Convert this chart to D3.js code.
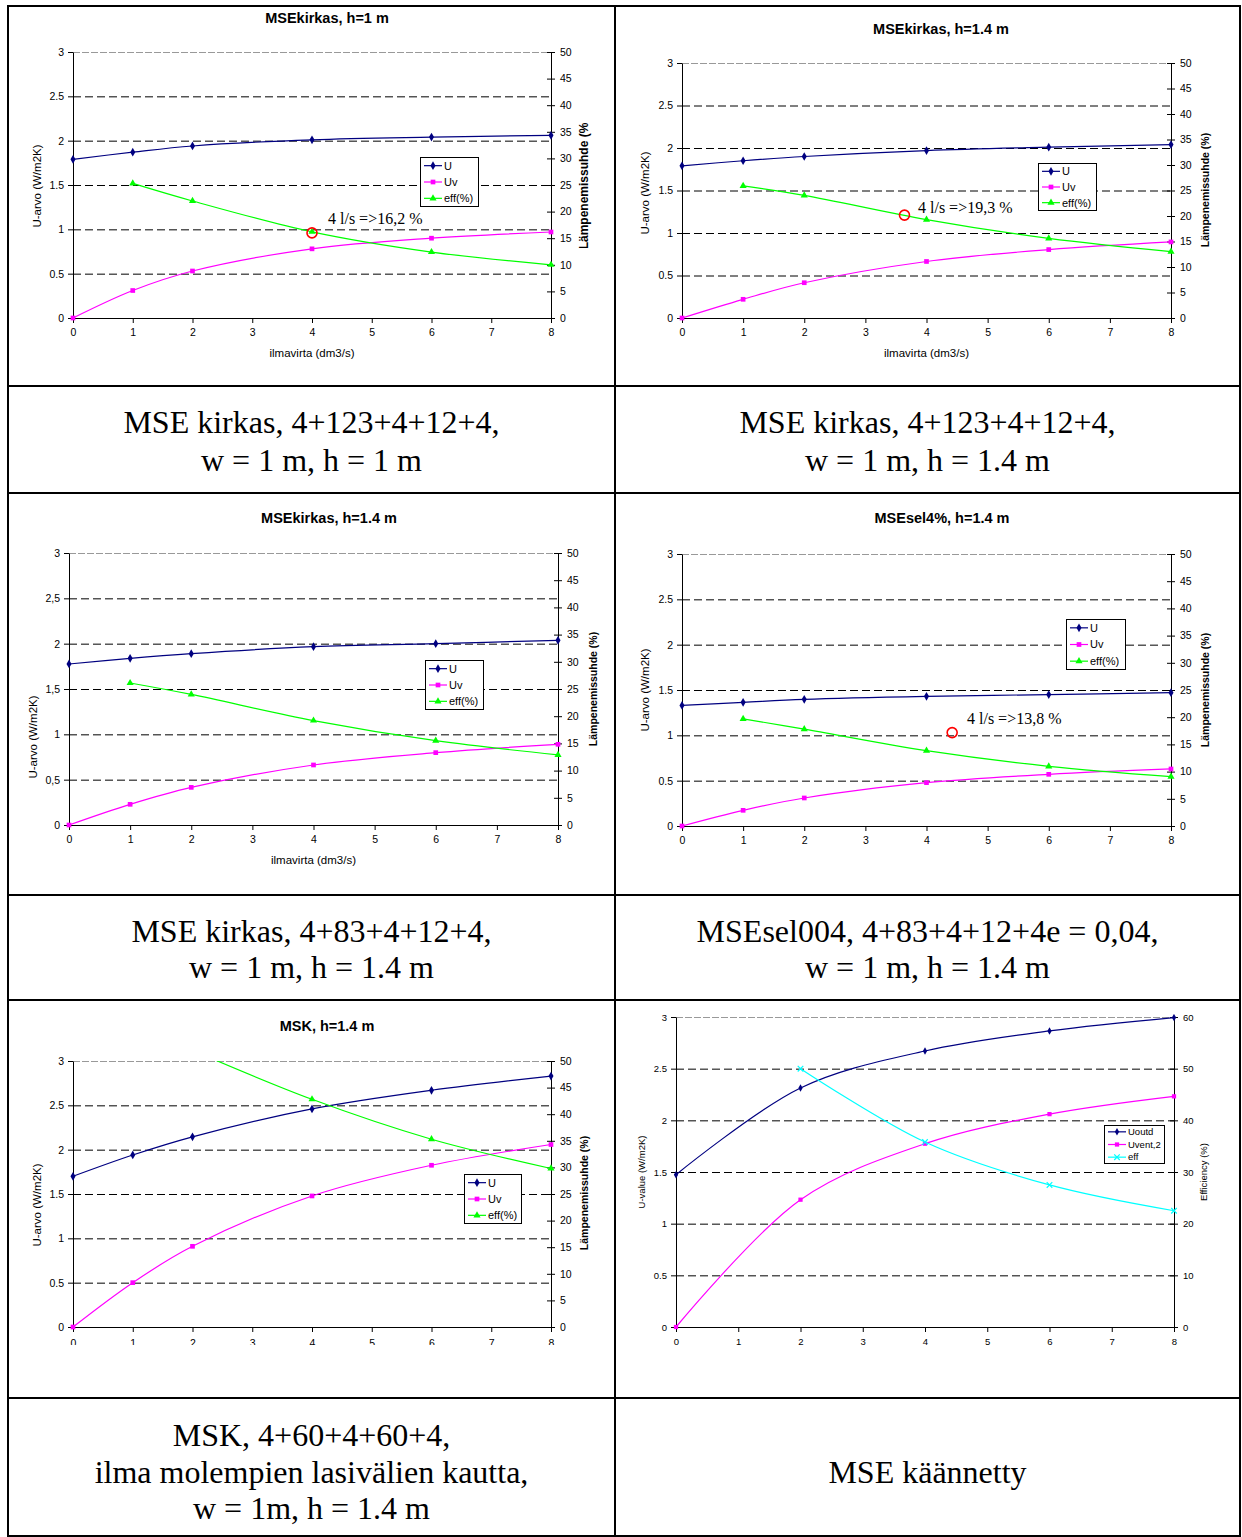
<!DOCTYPE html>
<html><head><meta charset="utf-8">
<script src="https://cdn.jsdelivr.net/npm/d3@7"></script>
<style>
body{margin:0;background:#fff}
</style>
</head><body>
<svg id="c" width="1242" height="1537" style="font-family:'Liberation Sans',Arial,sans-serif"></svg>
<script>
// ---------- data ----------
const xFlow = [0,1,2,4,6,8];
const xFlowEff = [1,2,4,6,8];
const xFlow6 = [0,2,4,6,8];
const xFlow6Eff = [2,4,6,8];

const c1U   = [1.79,1.87,1.94,2.01,2.04,2.06];
const c1Uv  = [0,0.31,0.53,0.78,0.90,0.97];
const c1Eff = [25.3,22.0,16.2,12.4,10.0];

const c2U   = [1.79,1.85,1.90,1.97,2.01,2.04];
const c2Uv  = [0,0.22,0.415,0.665,0.805,0.895];
const c2Eff = [25.9,24.05,19.3,15.6,13.0];

const c3U   = [1.776,1.838,1.89,1.967,2.00,2.037];
const c3Uv  = [0,0.228,0.415,0.662,0.798,0.89];
const c3Eff = [26.1,24.0,19.2,15.5,12.9];

const c4U   = [1.33,1.364,1.397,1.43,1.449,1.47];
const c4Uv  = [0,0.173,0.309,0.478,0.57,0.629];
const c4Eff = [19.7,17.8,13.85,10.97,9.07];

const c5U   = [1.70,1.94,2.145,2.46,2.67,2.83];
const c5Uv  = [0,0.50,0.91,1.478,1.824,2.058];
const c5Eff = [57,52,42.8,35.3,29.8];

const c6Uoutd = [1.474,2.313,2.671,2.865,2.994];
const c6Uvent = [0,1.232,1.774,2.06,2.232];
const c6Eff   = [50.0,35.8,27.5,22.5];

const uTicks = [0,0.5,1,1.5,2,2.5,3];
const uTickLabelsDot = ["0","0.5","1","1.5","2","2.5","3"];
const uTickLabelsComma = ["0","0,5","1","1,5","2","2,5","3"];
const effTicks50 = [0,5,10,15,20,25,30,35,40,45,50];
const effTicks60 = [0,10,20,30,40,50,60];
const xTicks = [0,1,2,3,4,5,6,7,8];

const chartTitles = ["MSEkirkas, h=1 m","MSEkirkas, h=1.4 m","MSEkirkas, h=1.4 m","MSEsel4%, h=1.4 m","MSK, h=1.4 m"];
const legendNames = ["U","Uv","eff(%)"];
const legendNames6 = ["Uoutd","Uvent,2","eff"];
const annotations = ["4 l/s =>16,2 %","4 l/s =>19,3 %","4 l/s =>13,8 %"];
const annotPoints = [[4,0.96],[3.64,1.21],[4.42,1.03]];
const captions = [
  ["MSE kirkas, 4+123+4+12+4,","w = 1 m, h = 1 m"],
  ["MSE kirkas, 4+123+4+12+4,","w = 1 m, h = 1.4 m"],
  ["MSE kirkas, 4+83+4+12+4,","w = 1 m, h = 1.4 m"],
  ["MSEsel004, 4+83+4+12+4e = 0,04,","w = 1 m, h = 1.4 m"],
  ["MSK, 4+60+4+60+4,","ilma molempien lasivälien kautta,","w = 1m, h = 1.4 m"],
  ["MSE käännetty"]
];
const yTitle = "U-arvo (W/m2K)", yTitle6 = "U-value (W/m2K)";
const rTitle = "Lämpenemissuhde (%)", rTitle6 = "Efficiency (%)";
const xTitle = "ilmavirta (dm3/s)";

// ---------- drawing ----------
const SANS = "'Liberation Sans',Arial,sans-serif";
const SERIF = "'Liberation Serif','Times New Roman',serif";
const svg = d3.select("#c");
svg.append("rect").attr("width",1242).attr("height",1537).attr("fill","#fff");
const defs = svg.append("defs");
const COL = {U:"#000080", Uv:"#FF00FF", eff:"#00FF00", eff6:"#00FFFF"};
let clipId = 0;
function clip(x,y,w,h){
  const id = "cp"+(clipId++);
  defs.append("clipPath").attr("id",id).append("rect").attr("x",x).attr("y",y).attr("width",w).attr("height",h);
  return "url(#"+id+")";
}
const symTimes = d3.symbolTimes || d3.symbolCross;

function drawChart(cfg){
  const root = svg.append("g");
  if (cfg.chartClip) root.attr("clip-path", clip(...cfg.chartClip));
  const x = d3.scaleLinear().domain([0,8]).range([cfg.x0,cfg.x1]);
  const yL = d3.scaleLinear().domain([0,3]).range([cfg.y1,cfg.y0]);
  const yR = d3.scaleLinear().domain([0,cfg.rMax]).range([cfg.y1,cfg.y0]);
  const fs = cfg.fs;

  root.append("g").selectAll("line").data(uTicks.filter(v=>v>0)).join("line")
    .attr("x1",cfg.x0).attr("x2",cfg.x1)
    .attr("y1",d=>yL(d)+0.5).attr("y2",d=>yL(d)+0.5)
    .attr("stroke",d=>d===3?"#999":"#000")
    .attr("stroke-dasharray",d=>d===3?"7,2":"8,4")
    .attr("stroke-width",1);

  function style(ax, size){
    ax.attr("font-family",null);
    ax.selectAll("text").style("font-family",SANS).attr("font-size",size).attr("fill","#000");
    ax.selectAll("line,path").attr("stroke","#000").attr("stroke-width",1);
  }
  const aL = root.append("g").attr("transform",`translate(${cfg.x0},0)`)
    .call(d3.axisLeft(yL).tickValues(uTicks).tickFormat((d,i)=>cfg.leftLabels[i]).tickSize(5).tickSizeOuter(0).tickPadding(4));
  style(aL, fs.tick);
  const aR = root.append("g").attr("transform",`translate(${cfg.x1},0)`)
    .call(d3.axisRight(yR).tickValues(cfg.rTicks).tickFormat(d3.format("d")).tickSize(4).tickSizeOuter(0).tickPadding(cfg.rPad));
  aR.selectAll(".tick line").attr("x1",-4).attr("x2",4);
  style(aR, fs.tick);
  const aB = root.append("g").attr("transform",`translate(0,${cfg.y1})`)
    .call(d3.axisBottom(x).tickValues(xTicks).tickFormat(d3.format("d")).tickSize(5).tickSizeOuter(0).tickPadding(cfg.bPad));
  style(aB, fs.tick);

  if (cfg.title) root.append("text").attr("x",cfg.titleX).attr("y",cfg.titleY).attr("dy","0.35em")
    .attr("text-anchor","middle").attr("font-weight","bold").attr("font-size",fs.title).text(cfg.title);
  if (cfg.xTitleY) root.append("text").attr("x",(cfg.x0+cfg.x1)/2).attr("y",cfg.xTitleY).attr("dy","0.35em")
    .attr("text-anchor","middle").attr("font-size",fs.axis).text(xTitle);
  root.append("text").attr("transform",`translate(${cfg.lTitleX},${cfg.lTitleY}) rotate(-90)`).attr("dy","0.35em")
    .attr("text-anchor","middle").attr("font-size",fs.axis).text(cfg.yTitleText);
  const rg = root.append("g");
  if (cfg.rClip) rg.attr("clip-path", clip(cfg.rTitleX-10,cfg.rClip[0],20,cfg.rClip[1]-cfg.rClip[0]));
  rg.append("text").attr("transform",`translate(${cfg.rTitleX},${cfg.rTitleY}) rotate(-90)`).attr("dy","0.35em")
    .attr("text-anchor","middle").attr("font-size",fs.rAxis).attr("font-weight",cfg.rBold?"bold":"normal").text(cfg.rTitleText);

  const plot = root.append("g").attr("clip-path", clip(cfg.x0-8,cfg.y0-3,cfg.x1-cfg.x0+16,cfg.y1-cfg.y0+11));
  const effPlot = root.append("g").attr("clip-path", clip(cfg.x0-8,cfg.y0,cfg.x1-cfg.x0+16,cfg.y1-cfg.y0+8));
  cfg.series.forEach(s=>{
    const yS = s.right ? yR : yL;
    const pts = s.xs.map((xv,i)=>[x(xv), yS(s.vals[i])]);
    const tgt = s.right ? effPlot : plot;
    tgt.append("path").attr("d", d3.line().curve(d3.curveCatmullRom.alpha(0.5))(pts))
      .attr("fill","none").attr("stroke",s.color).attr("stroke-width",1.2);
    tgt.selectAll(null).data(pts).join("path")
      .attr("transform",d=>`translate(${d[0]},${d[1]})`)
      .attr("d", d3.symbol().type(s.sym).size(s.size))
      .attr("fill", s.stroke ? "none" : s.color)
      .attr("stroke", s.stroke ? s.color : "none").attr("stroke-width",1.2);
  });

  const [lx,ly,lw,lh] = cfg.legend;
  const lg = root.append("g");
  lg.append("rect").attr("x",lx+0.5).attr("y",ly+0.5).attr("width",lw).attr("height",lh)
    .attr("fill","#fff").attr("stroke","#000").attr("stroke-width",1);
  const rowH = lh/3;
  cfg.series.forEach((s,i)=>{
    const cy = ly + rowH*(i+0.5) + 0.5;
    lg.append("line").attr("x1",lx+4).attr("x2",lx+22).attr("y1",cy).attr("y2",cy).attr("stroke",s.color).attr("stroke-width",1.2);
    lg.append("path").attr("transform",`translate(${lx+13},${cy})`).attr("d",d3.symbol().type(s.sym).size(s.size))
      .attr("fill", s.stroke ? "none" : s.color).attr("stroke", s.stroke ? s.color : "none").attr("stroke-width",1.2);
    lg.append("text").attr("x",lx+24).attr("y",cy).attr("dy","0.35em").attr("font-size",fs.legend).text(cfg.names[i]);
  });

  if (cfg.annot){
    const [ax,ay] = annotPoints[cfg.annot.i];
    root.append("circle").attr("cx",x(ax)).attr("cy",yL(ay)).attr("r",5)
      .attr("fill","none").attr("stroke","#FF0000").attr("stroke-width",1.6);
    root.append("text").attr("x",cfg.annot.tx).attr("y",cfg.annot.ty).attr("dy","0.35em")
      .style("font-family",SERIF).attr("font-size",16)
      .text(annotations[cfg.annot.i]);
  }
}

function std(U,Uv,Eff){
  return [
    {xs:xFlow, vals:U, color:COL.U, sym:d3.symbolDiamond, size:22},
    {xs:xFlow, vals:Uv, color:COL.Uv, sym:d3.symbolSquare, size:22},
    {xs:xFlowEff, vals:Eff, color:COL.eff, sym:d3.symbolTriangle, size:22, right:true}
  ];
}
const fsStd = {tick:10.5, title:14.5, axis:11.5, rAxis:10.5, legend:11};

const cfgs = [
  {title:chartTitles[0], titleX:327, titleY:18, x0:73, x1:551, y0:52, y1:318, rMax:50, rTicks:effTicks50, rPad:5, bPad:6,
   leftLabels:uTickLabelsDot, series:std(c1U,c1Uv,c1Eff), names:legendNames, xTitleY:353,
   lTitleX:37, lTitleY:186, rTitleX:584, rTitleY:184, rClip:[123,248], rBold:true, yTitleText:yTitle, rTitleText:rTitle,
   legend:[420,157,58,49], annot:{i:0,tx:328,ty:218}, fs:Object.assign({},fsStd,{rAxis:12})},
  {title:chartTitles[1], titleX:941, titleY:29, x0:682, x1:1171, y0:63, y1:318, rMax:50, rTicks:effTicks50, rPad:5, bPad:6,
   leftLabels:uTickLabelsDot, series:std(c2U,c2Uv,c2Eff), names:legendNames, xTitleY:353,
   lTitleX:645, lTitleY:193, rTitleX:1205, rTitleY:190, rBold:true, yTitleText:yTitle, rTitleText:rTitle,
   legend:[1038,163,58,47], annot:{i:1,tx:918,ty:207}, fs:fsStd},
  {title:chartTitles[2], titleX:329, titleY:518, x0:69, x1:558, y0:553, y1:825, rMax:50, rTicks:effTicks50, rPad:5, bPad:6,
   leftLabels:uTickLabelsComma, series:std(c3U,c3Uv,c3Eff), names:legendNames, xTitleY:860,
   lTitleX:33, lTitleY:737, rTitleX:593, rTitleY:689, rBold:true, yTitleText:yTitle, rTitleText:rTitle,
   legend:[425,660,58,49], fs:fsStd},
  {title:chartTitles[3], titleX:942, titleY:518, x0:682, x1:1171, y0:554, y1:826, rMax:50, rTicks:effTicks50, rPad:5, bPad:6,
   leftLabels:uTickLabelsDot, series:std(c4U,c4Uv,c4Eff), names:legendNames,
   lTitleX:645, lTitleY:690, rTitleX:1205, rTitleY:690, rBold:true, yTitleText:yTitle, rTitleText:rTitle,
   legend:[1066,619,59,50], annot:{i:2,tx:967,ty:718}, fs:fsStd},
  {title:chartTitles[4], titleX:327, titleY:1026, x0:73, x1:551, y0:1061, y1:1327, rMax:50, rTicks:effTicks50, rPad:5, bPad:8,
   leftLabels:uTickLabelsDot, series:std(c5U,c5Uv,c5Eff), names:legendNames, chartClip:[9,1001,605,344],
   lTitleX:37, lTitleY:1205, rTitleX:584, rTitleY:1193, rBold:true, yTitleText:yTitle, rTitleText:rTitle,
   legend:[464,1174,57,49], fs:fsStd},
  {x0:676, x1:1174, y0:1017, y1:1327, rMax:60, rTicks:effTicks60, rPad:5, bPad:6,
   leftLabels:uTickLabelsDot, names:legendNames6,
   series:[
     {xs:xFlow6, vals:c6Uoutd, color:COL.U, sym:d3.symbolDiamond, size:16},
     {xs:xFlow6, vals:c6Uvent, color:COL.Uv, sym:d3.symbolSquare, size:18},
     {xs:xFlow6Eff, vals:c6Eff, color:COL.eff6, sym:symTimes, size:22, stroke:true, right:true}
   ],
   lTitleX:642, lTitleY:1172, rTitleX:1204, rTitleY:1172, rBold:false, yTitleText:yTitle6, rTitleText:rTitle6,
   legend:[1104,1125,60,38], fs:{tick:9.5, title:12, axis:9.5, rAxis:9.5, legend:9.5}}
];
cfgs.forEach(drawChart);

// ---------- table ----------
const tX = [8,615,1240];
const tY = [6,386,493,895,1000,1398,1536];
const tb = svg.append("g").attr("stroke","#000").attr("stroke-width",2);
tX.forEach(v=>tb.append("line").attr("x1",v).attr("x2",v).attr("y1",tY[0]-1).attr("y2",tY[tY.length-1]+1));
tY.forEach(v=>tb.append("line").attr("x1",tX[0]-1).attr("x2",tX[2]+1).attr("y1",v).attr("y2",v));

const capCells = [
  [311.5,[422,460]],[927.5,[422,460]],
  [311.5,[931,967]],[927.5,[931,967]],
  [311.5,[1435,1472,1508]],[927.5,[1472]]
];
captions.forEach((lines,i)=>{
  const [cx,ys] = capCells[i];
  lines.forEach((t,j)=>{
    svg.append("text").attr("x",cx).attr("y",ys[j]).attr("dy","0.35em").attr("text-anchor","middle")
      .style("font-family",SERIF).attr("font-size",32).text(t);
  });
});
</script>
</body></html>
